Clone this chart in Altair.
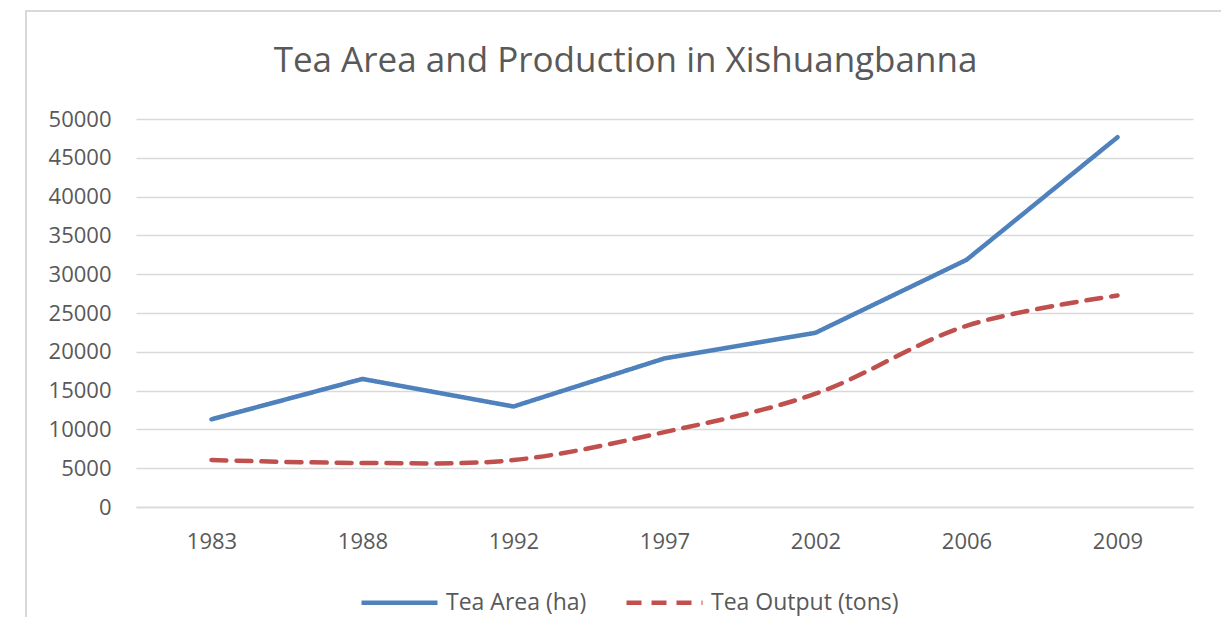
import altair as alt
import pandas as pd

years = ["1983", "1988", "1992", "1997", "2002", "2006", "2009"]
tea_area = [11300, 16500, 12950, 19150, 22450, 31850, 47650]
tea_output = [6050, 5680, 6050, 9650, 14600, 23350, 27250]
series_names = ["Tea Area (ha)", "Tea Output (tons)"]
y_ticks = list(range(0, 50001, 5000))

area_df = pd.DataFrame({"year": years, "value": tea_area, "series": series_names[0]})
out_df = pd.DataFrame({"year": years, "value": tea_output, "series": series_names[1]})

FONT = "Open Sans"
TXT = "#595959"
GRID = "#D9D9D9"
BLUE = "#4F81BD"
RED = "#C0504D"

x_enc = alt.X("year:N", sort=years, scale=alt.Scale(padding=0.5),
              axis=alt.Axis(title=None, labelAngle=0, grid=False, ticks=False, tickSize=0,
                            domain=True, domainColor=GRID, domainWidth=1.3,
                            labelPadding=24, labelFontSize=22, labelColor=TXT, labelFont=FONT))
y_enc = alt.Y("value:Q", scale=alt.Scale(domain=[0, 50000], nice=False),
              axis=alt.Axis(title=None, values=y_ticks, format="d", grid=True, gridColor=GRID,
                            gridWidth=1.3, domain=False, ticks=False, tickSize=0, labelPadding=25,
                            labelFontSize=22, labelColor=TXT, labelFont=FONT))

def make_legend():
    return alt.Legend(title=None, orient="none", legendX=223, legendY=443,
                      direction="horizontal", symbolType="stroke",
                      symbolSize=5776, symbolStrokeWidth=4.5,
                      labelFontSize=23, labelColor=TXT, labelFont=FONT, labelLimit=400,
                      labelOffset=6, columnPadding=30, padding=0)

color_enc = alt.Color("series:N", scale=alt.Scale(domain=series_names, range=[BLUE, RED]),
                      legend=make_legend())
dash_enc = alt.StrokeDash("series:N", scale=alt.Scale(domain=series_names, range=[[1, 0], [15, 10]]),
                          legend=make_legend())

frame = alt.Chart(pd.DataFrame({"a": [0]})).mark_rect(fill=None, stroke=GRID, strokeWidth=2).encode(
    x=alt.value(-110), x2=alt.value(1090), y=alt.value(-108), y2=alt.value(520))

area_line = alt.Chart(area_df).mark_line(strokeWidth=4.5, strokeCap="round", strokeJoin="round").encode(
    x=x_enc, y=y_enc, color=color_enc, strokeDash=dash_enc)
out_line = alt.Chart(out_df).mark_line(strokeWidth=4.5, strokeCap="round", strokeJoin="round",
                                       interpolate="catmull-rom").encode(
    x=x_enc, y=y_enc, color=color_enc, strokeDash=dash_enc)

chart = alt.layer(frame, area_line, out_line).properties(
    width=1057, height=388,
    autosize=alt.AutoSizeParams(type="none"),
    padding={"left": 128, "top": 111, "right": 28, "bottom": 110},
    title=alt.TitleParams("Tea Area and Production in Xishuangbanna", fontSize=35, font=FONT,
                          color=TXT, fontWeight="normal", anchor="middle", dx=-39,
                          baseline="alphabetic", offset=-97),
).configure(background="white").configure_view(stroke=None)

chart.save("out.html", embed_options={"renderer": "svg", "actions": False})
